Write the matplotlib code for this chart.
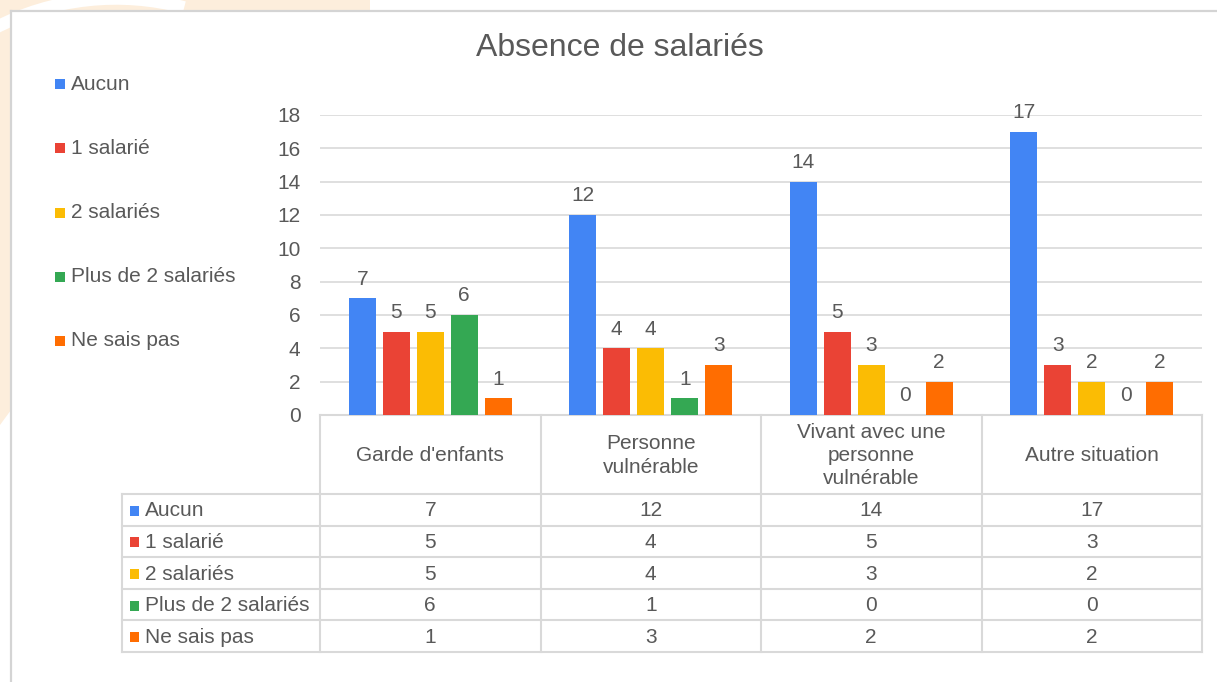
import matplotlib
matplotlib.use("Agg")
import matplotlib.pyplot as plt
from matplotlib.patches import Rectangle, Polygon, Arc

# data
categories = ["Garde d'enfants", "Personne\nvulnérable",
              "Vivant avec une\npersonne\nvulnérable", "Autre situation"]
series_names = ["Aucun", "1 salarié", "2 salariés", "Plus de 2 salariés", "Ne sais pas"]
aucun = [7, 12, 14, 17]
un_salarie = [5, 4, 5, 3]
deux_salaries = [5, 4, 3, 2]
plus_de_deux = [6, 1, 0, 0]
ne_sais_pas = [1, 3, 2, 2]
series_values = [aucun, un_salarie, deux_salaries, plus_de_deux, ne_sais_pas]
colors = ["#4285F4", "#EA4335", "#FBBC04", "#34A853", "#FF6D01"]
yticks = [0, 2, 4, 6, 8, 10, 12, 14, 16, 18]

W, H = 1217, 682
TXT = "#595959"
LINE = "#d9d9d9"
plt.rcParams['font.family'] = ['Liberation Sans', 'DejaVu Sans']

fig = plt.figure(figsize=(W / 100, H / 100), dpi=100)


def box(x0, y0, x1, y1):
    # pixel box (y from top) -> figure fraction rect
    return [x0 / W, 1 - y1 / H, (x1 - x0) / W, (y1 - y0) / H]


# background layer in pixel coords
bg = fig.add_axes([0, 0, 1, 1])
bg.set_xlim(0, W)
bg.set_ylim(H, 0)
bg.axis('off')

peach = "#fdeedc"
bg.add_patch(Rectangle((0, 0), 370, 11, color=peach, zorder=0, lw=0))
bg.add_patch(Polygon([(0, 0), (11, 0), (11, 410), (0, 425)], color=peach, zorder=0, lw=0))
bg.add_patch(Arc((116, 262), 527, 527, theta1=200, theta2=285, color="white", lw=9, zorder=1))
bg.plot([11, W], [11, 11], color="#d4d4d4", lw=1.6, zorder=3)
bg.plot([11, 11], [11, H], color="#d4d4d4", lw=1.6, zorder=3)

# title
bg.text(620, 48, "Absence de salariés", ha='center', va='center', fontsize=23, color=TXT)

# legend at left
leg_y = [84, 148, 213, 277, 341]
for name, c, y in zip(series_names, colors, leg_y):
    bg.add_patch(Rectangle((55, y - 5), 10, 10, color=c, lw=0, zorder=2))
    bg.text(71, y, name, ha='left', va='center', fontsize=15, color=TXT)

# bar chart
x_left, x_right, y_top, y_zero = 320, 1202, 115, 415
ax = fig.add_axes(box(x_left, y_top, x_right, y_zero))
ax.set_ylim(0, 18)
ax.set_xlim(-0.5, len(categories) - 0.5)
for s in ax.spines.values():
    s.set_visible(False)
ax.set_yticks(yticks)
ax.set_yticklabels([str(t) for t in yticks], fontsize=15, color=TXT)
ax.tick_params(axis='y', length=0, pad=14)
ax.set_xticks([])
ax.yaxis.grid(True, color=LINE, lw=1.2)
ax.set_axisbelow(True)
ax.patch.set_alpha(0)

step, bw = 0.154, 0.122
for j, (vals, c) in enumerate(zip(series_values, colors)):
    xs = [i + (j - 2) * step for i in range(len(categories))]
    bars = ax.bar(xs, vals, width=bw, color=c, zorder=2)
    for b, v in zip(bars, vals):
        ax.annotate(str(v), (b.get_x() + b.get_width() / 2, v), xytext=(0, 7),
                    textcoords='offset points', ha='center', va='bottom',
                    fontsize=15, color=TXT)

# category row and data table
col_w = (x_right - x_left) / len(categories)
cat_bottom = 494
row_h = 31.6
tab_left = 122
n_rows = len(series_names)
tab_bottom = cat_bottom + n_rows * row_h

bg.plot([x_left, x_right], [y_zero, y_zero], color=LINE, lw=1.5, zorder=2)
for k in range(n_rows + 1):
    y = cat_bottom + k * row_h
    bg.plot([tab_left, x_right], [y, y], color=LINE, lw=1.5, zorder=2)
for i in range(len(categories) + 1):
    x = x_left + i * col_w
    bg.plot([x, x], [y_zero, tab_bottom], color=LINE, lw=1.5, zorder=2)
bg.plot([tab_left, tab_left], [cat_bottom, tab_bottom], color=LINE, lw=1.5, zorder=2)

for i, cat in enumerate(categories):
    bg.text(x_left + (i + 0.5) * col_w, (y_zero + cat_bottom) / 2 + 1, cat,
            ha='center', va='center', fontsize=15, color=TXT, linespacing=1.3)

for k, (name, c, vals) in enumerate(zip(series_names, colors, series_values)):
    yc = cat_bottom + (k + 0.5) * row_h + 1
    bg.add_patch(Rectangle((130, yc - 5), 9, 10, color=c, lw=0, zorder=2))
    bg.text(145, yc, name, ha='left', va='center', fontsize=15, color=TXT)
    for i, v in enumerate(vals):
        bg.text(x_left + (i + 0.5) * col_w, yc, str(v), ha='center', va='center',
                fontsize=15, color=TXT)

fig.savefig("out.png", dpi=100, facecolor="white")
